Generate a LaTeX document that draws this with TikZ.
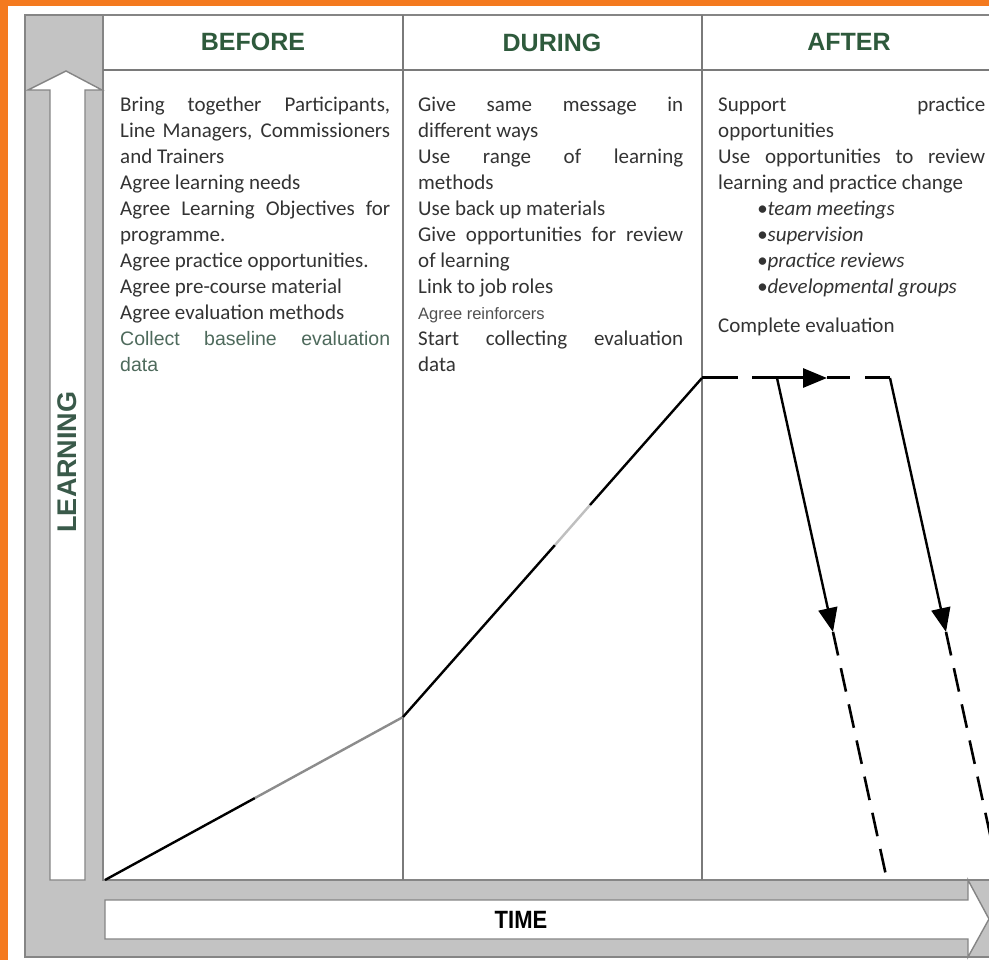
\documentclass[tikz,border=0pt]{standalone}
\usepackage{fontspec}
\setmainfont{Carlito}
\newfontfamily\arialf{Liberation Sans}
\usetikzlibrary{arrows.meta}
\definecolor{orangeb}{HTML}{F47A1F}
\definecolor{frameg}{HTML}{C3C3C3}
\definecolor{framel}{HTML}{858585}
\definecolor{sepc}{HTML}{7A7A7A}
\definecolor{headg}{HTML}{2E5A3C}
\definecolor{learng}{HTML}{3A5A4A}
\definecolor{bodyc}{HTML}{333333}
\definecolor{collc}{HTML}{4E6A5C}
\definecolor{smallc}{HTML}{505050}
\setlength{\parindent}{0pt}
\setlength{\parskip}{0pt}
\hyphenpenalty=10000
\exhyphenpenalty=10000
\tolerance=9999
\hbadness=10000
\begin{document}
\begin{tikzpicture}[x=1pt,y=-1pt,
  frameline/.style={draw=framel, line width=1.4pt},
  bigarrow/.style={fill=white, draw=framel, line width=1.4pt},
  sepline/.style={draw=sepc, line width=1.6pt},
  headtext/.style={font=\arialf\bfseries\fontsize{25}{30}\selectfont, text=headg, inner sep=0pt},
  coltext/.style={anchor=north west, inner sep=0pt, align=justify, text=bodyc, font=\fontsize{21}{26}\selectfont},
  learnline/.style={line width=2.4pt, draw=black},
  fadeline/.style={line width=2.4pt, draw=black!45},
  dashpath/.style={line width=3pt, draw=black},
  tipf/.style={-{Triangle[length=24pt,width=19pt]}}
]
\useasboundingbox (0,0) rectangle (989,960);
\clip (0,0) rectangle (989,960);
% background and orange border
\fill[white] (0,0) rectangle (989,960);
\fill[orangeb] (0,0) rectangle (8,960);
\fill[orangeb] (0,0) rectangle (989,6);
% gray frame
\path[fill=frameg, frameline] (25,15) rectangle (1010,957);
% chart area
\path[fill=white, frameline] (103,15) rectangle (1010,880);
\draw[sepline] (103,70) -- (1010,70);
\draw[sepline] (403,15) -- (403,880);
\draw[sepline] (702,15) -- (702,880);
% LEARNING arrow
\path[bigarrow] (50,880) -- (50,90) -- (28,90) -- (66,71) -- (102,90) -- (85,90) -- (85,880) -- cycle;
\node[rotate=90, font=\arialf\bfseries\fontsize{27}{30}\selectfont, text=learng, inner sep=0pt] (learn) at (67,462) {LEARNING};
% TIME arrow
\path[bigarrow] (105,900) -- (968,900) -- (968,880) -- (989,919) -- (968,957) -- (968,939) -- (105,939) -- cycle;
\node[font=\arialf\bfseries\fontsize{25}{30}\selectfont, text=black, inner sep=0pt] (time) at (521,920) {\scalebox{0.88}[1]{TIME}};
% headers
\node[headtext] (hbefore) at (253,42) {BEFORE};
\node[headtext] (hduring) at (552,43) {DURING};
\node[headtext] (hafter) at (849,42) {AFTER};
% column texts
\node[coltext, text width=270pt] (tbefore) at (120,92.8) {\strut Bring together Participants,\linebreak Line Managers, Commissioners\linebreak and Trainers\par
Agree learning needs\par
Agree Learning Objectives for\linebreak programme.\par
Agree practice opportunities.\par
Agree pre-course material\par
Agree evaluation methods\par
{\arialf\color{collc}\fontsize{19.5}{26}\selectfont Collect baseline evaluation\linebreak data\par}};
\node[coltext, text width=265pt] (tduring) at (418,92.8) {\strut Give same message in\linebreak different ways\par
Use range of learning\linebreak methods\par
Use back up materials\par
Give opportunities for review\linebreak of learning\par
Link to job roles\par
{\arialf\color{smallc}\fontsize{16.5}{26}\selectfont Agree reinforcers\par}
Start collecting evaluation\linebreak data\par};
\node[coltext, text width=267pt] (tafter) at (718,92.8) {\strut Support practice\linebreak opportunities\par
Use opportunities to review\linebreak learning and practice change\par
{\itshape\leftskip=39pt
•team meetings\par
•supervision\par
•practice reviews\par
•developmental groups\par}
\vspace{13pt}
Complete evaluation\par};
% learning curve
\coordinate (p0) at (105,880);
\coordinate (p1) at (255,798);
\coordinate (p2) at (403,717);
\coordinate (p3) at (555,545);
\coordinate (p4) at (590,505);
\coordinate (p5) at (702,378);
\draw[learnline] (p0) -- (p1);
\draw[fadeline] (p1) -- (p2);
\draw[learnline] (p2) -- (p3);
\draw[fadeline, draw=black!25] (p3) -- (p4);
\draw[learnline] (p4) -- (p5);
% plateau dashed with arrow
\coordinate (hm) at (827,378);
\coordinate (h2) at (890,378);
\coordinate (d1s) at (777,378);
\draw[dashpath, tipf, dash pattern=on 36pt off 14pt on 80pt] (p5) -- (hm);
\draw[dashpath, dash pattern=on 23pt off 15pt on 25pt] (hm) -- (h2);
% decline arrows
\coordinate (d1m) at (833,632);
\coordinate (d1e) at (887,880);
\coordinate (d2m) at (946,632);
\coordinate (d2e) at (1000,880);
\draw[learnline, tipf] (d1s) -- (d1m);
\draw[dashpath, line width=2.6pt, dash pattern=on 24pt off 13pt] (d1m) -- (d1e);
\draw[learnline, tipf] (h2) -- (d2m);
\draw[dashpath, line width=2.6pt, dash pattern=on 24pt off 13pt] (d2m) -- (d2e);
\end{tikzpicture}
\end{document}
